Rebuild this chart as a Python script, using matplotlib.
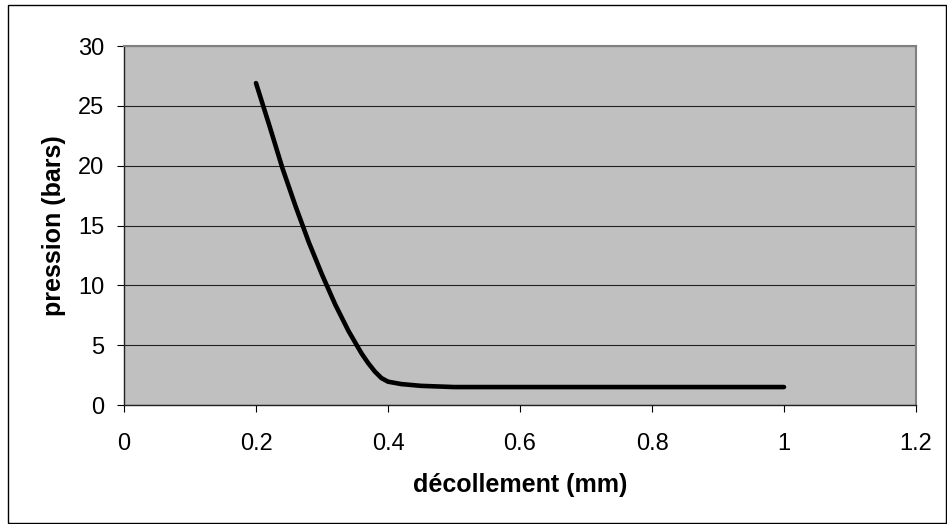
import matplotlib
matplotlib.use("Agg")
import matplotlib.pyplot as plt
from matplotlib.patches import Rectangle

plt.rcParams['font.family'] = ['Liberation Sans', 'DejaVu Sans']

# decollement (mm) vs pression (bars)
decollement = [0.20, 0.22, 0.24, 0.26, 0.28, 0.30, 0.32, 0.34, 0.36, 0.37,
               0.38, 0.39, 0.40, 0.42, 0.45, 0.50, 0.60, 0.70, 0.80, 0.90, 1.00]
pression = [26.9, 23.4, 19.8, 16.6, 13.6, 10.9, 8.4, 6.2, 4.3, 3.5,
            2.8, 2.25, 1.95, 1.75, 1.6, 1.5, 1.5, 1.5, 1.5, 1.5, 1.5]

x_ticks = [0, 0.2, 0.4, 0.6, 0.8, 1, 1.2]
x_tick_labels = ['0', '0.2', '0.4', '0.6', '0.8', '1', '1.2']
y_ticks = [0, 5, 10, 15, 20, 25, 30]

fig = plt.figure(figsize=(9.47, 5.24), dpi=100)
fig.patch.set_facecolor('white')
# axes box: x 124..916 px, y 46..405 px
ax = fig.add_axes([124 / 947, 1 - 405 / 524, 792 / 947, 359 / 524])
ax.set_facecolor('#c0c0c0')

ax.plot(decollement, pression, color='black', lw=3.3, solid_capstyle='round',
        solid_joinstyle='round', zorder=3)

ax.set_xlim(0, 1.2)
ax.set_ylim(0, 30)
ax.set_xticks(x_ticks)
ax.set_xticklabels(x_tick_labels)
ax.set_yticks(y_ticks)
ax.yaxis.grid(True, color='#202020', lw=0.8)
ax.set_axisbelow(True)

ax.tick_params(axis='both', direction='out', length=5, width=0.8, color='black',
               labelsize=17, labelcolor='black')
ax.tick_params(axis='x', pad=15)
ax.tick_params(axis='y', pad=9)

for s in ['left', 'bottom']:
    ax.spines[s].set_color('#202020')
    ax.spines[s].set_linewidth(1.0)
for s in ['top', 'right']:
    ax.spines[s].set_color('#808080')
    ax.spines[s].set_linewidth(1.5)

ax.set_xlabel('décollement (mm)', fontsize=18, fontweight='bold', labelpad=13)
ax.set_ylabel('pression (bars)', fontsize=18, fontweight='bold', labelpad=9)

# outer chart border
fig.patches.append(Rectangle((8 / 947, 1.5 / 524), 937.5 / 947, 517.5 / 524,
                             transform=fig.transFigure, fill=False,
                             edgecolor='black', lw=1))

fig.savefig('out.png', dpi=100)
